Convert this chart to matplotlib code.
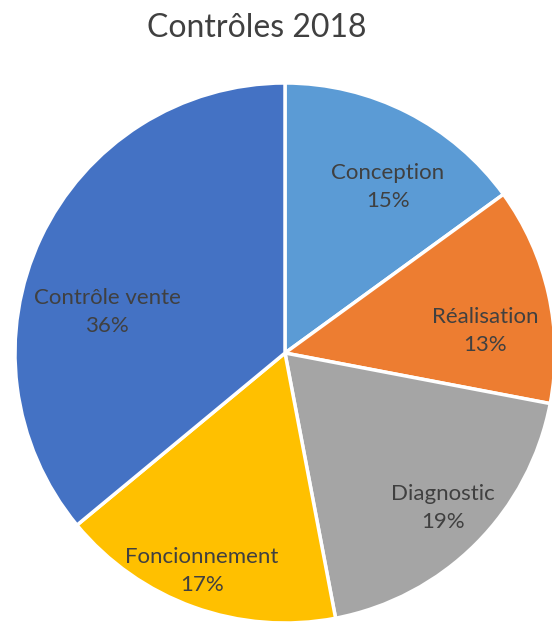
import numpy as np
import matplotlib.pyplot as plt

# Data
categories = ['Conception', 'Réalisation', 'Diagnostic', 'Foncionnement', 'Contrôle vente']
values = [15, 13, 19, 17, 36]
colors = ['#5B9BD5', '#ED7D31', '#A5A5A5', '#FFC000', '#4472C4']

# label centres in pixels (layout only)
label_px = [(388, 187), (485, 331), (443, 508), (202, 571), (107, 312)]

plt.rcParams['font.family'] = ['Lato', 'DejaVu Sans']

W, H = 552, 624
fig = plt.figure(figsize=(W / 100, H / 100), dpi=100)
ax = fig.add_axes([0, 0, 1, 1])

# pie centre / radius in pixels
cx, cy, r = 285, 353, 270

wedges, _ = ax.pie(values, colors=colors, startangle=90, counterclock=False,
                   radius=1, wedgeprops=dict(edgecolor='white', linewidth=2.5))

total = sum(values)
for name, v, (px, py) in zip(categories, values, label_px):
    ax.text((px - cx) / r, (cy - py) / r, f'{name}\n{round(100 * v / total)}%',
            ha='center', va='center', fontsize=16, color='#404040', linespacing=1.45)

ax.set_xlim(-cx / r, (W - cx) / r)
ax.set_ylim(-(H - cy) / r, cy / r)
ax.set_aspect('auto')
ax.axis('off')

fig.text(257 / W, 1 - 28 / H, 'Contrôles 2018', ha='center', va='center',
         fontsize=23, color='#404040')

plt.savefig('out.png', dpi=100)
